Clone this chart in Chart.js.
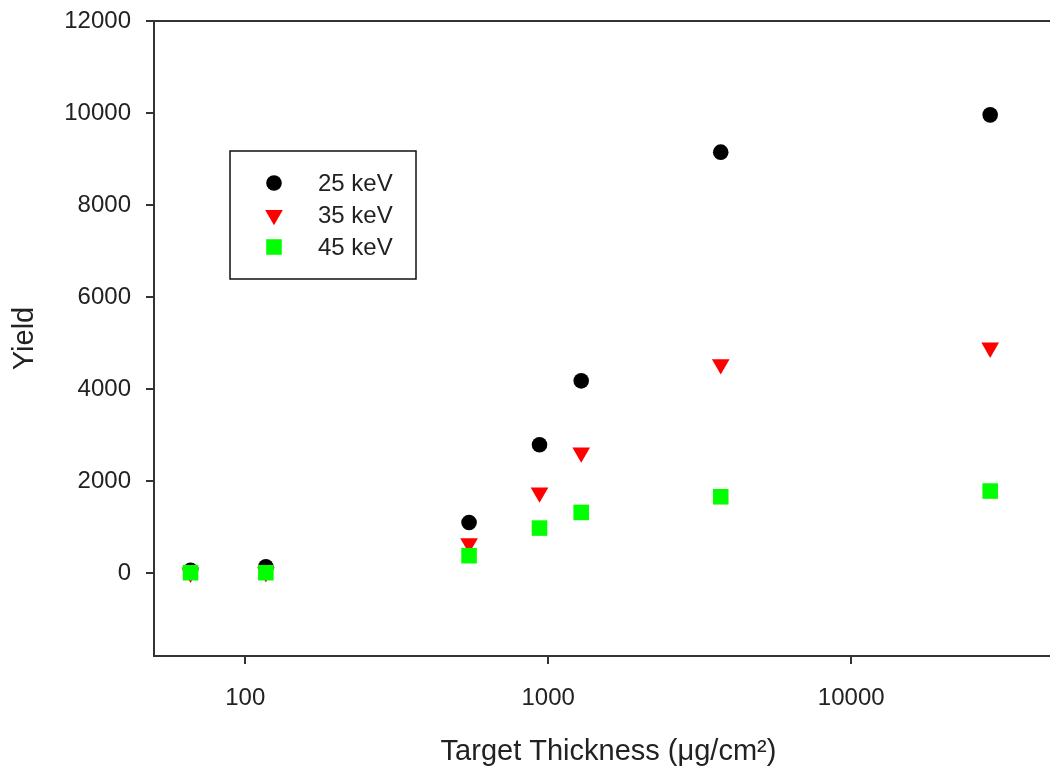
<!DOCTYPE html>
<html>
<head>
<meta charset="utf-8">
<script src="https://cdn.jsdelivr.net/npm/chart.js@4"></script>
<style>
  html, body { margin: 0; padding: 0; background: #fff; overflow: hidden; }
  #wrap { width: 1080px; height: 767px; }
</style>
</head>
<body>
<div id="wrap"><canvas id="yieldChart" width="1080" height="767"></canvas></div>
<script>
// target thickness in ug/cm2 (shared by all three beams)
const thickness = [66, 117, 548, 936, 1285, 3710, 28750];
const yield25 = [60, 140, 1100, 2790, 4180, 9150, 9960];
const yield35 = [10, 20, 650, 1750, 2620, 4540, 4900];
const yield45 = [10, 10, 380, 980, 1320, 1660, 1785];

const seriesLabels = ['25 keV', '35 keV', '45 keV'];
const xTicks = [100, 1000, 10000];
const yTicks = [0, 2000, 4000, 6000, 8000, 10000, 12000];

const FONT = '"Liberation Sans", Arial, sans-serif';
const AXIS = '#333';

function toPoints(ys) {
    return thickness.map((t, i) => ({ x: t, y: ys[i] }));
}

// frame line along the top of the plot
const framePlugin = {
    id: 'frame',
    afterDraw(chart) {
        const { ctx, chartArea } = chart;
        ctx.save();
        ctx.strokeStyle = AXIS;
        ctx.lineWidth = 2;
        ctx.beginPath();
        ctx.moveTo(chartArea.left, chartArea.top);
        ctx.lineTo(chartArea.right, chartArea.top);
        ctx.stroke();
        ctx.restore();
    }
};

// boxed legend sitting inside the plot
const boxLegend = {
    id: 'boxLegend',
    afterDraw(chart) {
        const ctx = chart.ctx;
        const box = { x: 230, y: 151, w: 186, h: 128 };
        ctx.save();
        ctx.strokeStyle = '#111';
        ctx.lineWidth = 1.5;
        ctx.strokeRect(box.x, box.y, box.w, box.h);

        ctx.font = '24px ' + FONT;
        ctx.textBaseline = 'middle';
        chart.data.datasets.forEach((ds, i) => {
            const cy = 183 + i * 32;
            const opts = {
                pointStyle: ds.pointStyle,
                radius: ds.pointRadius,
                rotation: ds.rotation || 0,
                borderWidth: 0
            };
            ctx.fillStyle = ds.backgroundColor;
            ctx.strokeStyle = ds.backgroundColor;
            if (Chart.helpers && Chart.helpers.drawPoint) {
                Chart.helpers.drawPoint(ctx, opts, 274, cy);
            }
            ctx.fillStyle = '#222';
            ctx.fillText(ds.label, 318, cy + 1);
        });
        ctx.restore();
    }
};

const ctx = document.getElementById('yieldChart');

new Chart(ctx, {
    type: 'scatter',
    data: {
        datasets: [{
            label: seriesLabels[0],
            data: toPoints(yield25),
            pointStyle: 'circle',
            pointRadius: 7.8,
            backgroundColor: '#000000',
            borderWidth: 0,
            order: 2
        }, {
            label: seriesLabels[1],
            data: toPoints(yield35),
            pointStyle: 'triangle',
            rotation: 180,
            pointRadius: 10.2,
            backgroundColor: '#ff0000',
            borderWidth: 0,
            order: 1
        }, {
            label: seriesLabels[2],
            data: toPoints(yield45),
            pointStyle: 'rect',
            pointRadius: 11,
            backgroundColor: '#00ff00',
            borderWidth: 0,
            order: 0
        }]
    },
    options: {
        responsive: false,
        animation: false,
        layout: { autoPadding: false, padding: { left: 0, top: 21, right: 17, bottom: 0 } },
        plugins: {
            legend: { display: false },
            tooltip: { enabled: false }
        },
        scales: {
            x: {
                type: 'logarithmic',
                min: 50,
                max: 50000,
                afterBuildTicks: axis => { axis.ticks = xTicks.map(v => ({ value: v })); },
                afterFit: axis => {
                    axis.height = 111;
                    axis.paddingLeft = 0;
                    axis.paddingRight = 0;
                },
                ticks: {
                    autoSkip: false,
                    maxRotation: 0,
                    padding: 20,
                    color: '#222',
                    font: { family: FONT, size: 24 },
                    callback: v => String(v)
                },
                grid: { drawOnChartArea: false, drawTicks: true, tickLength: 8, color: AXIS, lineWidth: 2 },
                border: { display: true, color: AXIS, width: 2 },
                title: {
                    display: true,
                    text: 'Target Thickness (\u03bcg/cm\u00b2)',
                    color: '#222',
                    font: { family: FONT, size: 29, lineHeight: 1 },
                    padding: { top: 0, bottom: 1 }
                }
            },
            y: {
                type: 'linear',
                min: -1800,
                max: 12000,
                afterBuildTicks: axis => { axis.ticks = yTicks.map(v => ({ value: v })); },
                afterFit: axis => {
                    axis.width = 154;
                    axis.paddingTop = 0;
                    axis.paddingBottom = 0;
                },
                ticks: {
                    padding: 15,
                    color: '#222',
                    font: { family: FONT, size: 24 },
                    callback: v => String(v)
                },
                grid: { drawOnChartArea: false, drawTicks: true, tickLength: 8, color: AXIS, lineWidth: 2 },
                border: { display: true, color: AXIS, width: 2 },
                title: {
                    display: true,
                    text: 'Yield',
                    color: '#222',
                    font: { family: FONT, size: 29, lineHeight: 1 },
                    padding: { top: 10, bottom: 0 }
                }
            }
        }
    },
    plugins: [framePlugin, boxLegend]
});
</script>
</body>
</html>
